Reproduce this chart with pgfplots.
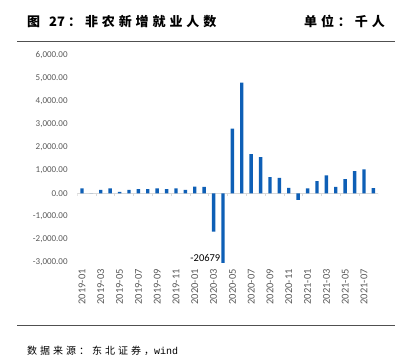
\documentclass[border=0pt]{standalone}
\usepackage{pgfplots}
\pgfplotsset{compat=1.18}
\usepackage{fontspec}
\setmainfont{Carlito}
\setmonofont{Liberation Mono}
\newfontfamily\cjk{Noto Sans CJK SC}[LetterSpace=30]
\newfontfamily\cjkn{Noto Sans CJK SC}
\definecolor{barblue}{RGB}{14,95,182}
\definecolor{labgray}{RGB}{89,89,89}
\definecolor{rulegray}{RGB}{80,80,80}
\definecolor{zerogray}{RGB}{217,217,217}
\begin{document}
\begin{tikzpicture}[x=1bp,y=1bp]
\path[use as bounding box] (0,0) rectangle (401,364);
\node[anchor=base west, inner sep=0pt] at (27,338) {\fontsize{13bp}{15bp}\selectfont\bfseries{\cjk 图}\hspace{9bp}{\cjkn 27}\hspace{3bp}{\cjk ：}\hspace{4bp}{\cjk 非农新增就业人数}};
\node[anchor=base east, inner sep=0pt] at (385,338) {\cjk\bfseries\fontsize{13bp}{15bp}\selectfont 单位：千人};
\draw[rulegray, line width=1bp] (17,322.3) -- (395,322.3);
\draw[rulegray, line width=1bp] (17,38) -- (395,38);
\node[anchor=base west, inner sep=0pt] at (27,10) {\fontsize{10bp}{12bp}\selectfont{\cjk 数据来源：东北证券，}{\ttfamily wind}};
\begin{axis}[
  at={(77.3bp,101.5bp)}, anchor=south west,
  scale only axis, width=300.8bp, height=207bp,
  xmin=-0.5, xmax=31.5, ymin=-3000, ymax=6000,
  axis line style={draw=none},
  major tick length=0pt,
  ytick={-3000,-2000,...,6000},
  xtick={0,2,...,30},
  xticklabels={2019-01,2019-03,2019-05,2019-07,2019-09,2019-11,2020-01,2020-03,2020-05,2020-07,2020-09,2020-11,2021-01,2021-03,2021-05,2021-07},
  xticklabel style={rotate=90, anchor=east, inner sep=0pt, font=\fontsize{10.5bp}{12bp}\selectfont, text=labgray},
  xticklabel shift=6.5bp,
  yticklabel style={anchor=east, inner sep=0pt, font=\fontsize{9bp}{11bp}\selectfont, text=labgray,
    /pgf/number format/.cd, fixed, fixed zerofill, precision=2, 1000 sep={,}, assume math mode=true},
  yticklabel shift=9.5bp,
  ybar, bar width=3.4bp,
]
\draw[zerogray, line width=1.3bp] (axis cs:-0.5,0) -- (axis cs:31.5,0);
\pgfplotsinvokeforeach{-0.5,1.5,3.5,5.5,7.5,9.5,11.5,13.5,15.5,17.5,19.5,21.5,23.5,25.5,27.5,29.5,31.5}{\draw[zerogray, line width=1bp] (axis cs:#1,0) -- ([yshift=-3bp]axis cs:#1,0);}
\addplot[fill=barblue, draw=none] coordinates {
(0,220) (1,1) (2,160) (3,218) (4,73) (5,160) (6,189) (7,190) (8,218) (9,190) (10,218) (11,160)
(12,300) (13,290) (14,-1660) (15,-20679) (16,2820) (17,4826) (18,1715) (19,1584) (20,712) (21,683) (22,247) (23,-275)
(24,218) (25,538) (26,785) (27,290) (28,625) (29,974) (30,1047) (31,233)
};
\node[anchor=east, inner sep=0pt, font=\fontsize{10.5bp}{12bp}\selectfont] at (axis cs:15,-2790) [xshift=-2.5bp] {-20679};
\end{axis}
\end{tikzpicture}
\end{document}
